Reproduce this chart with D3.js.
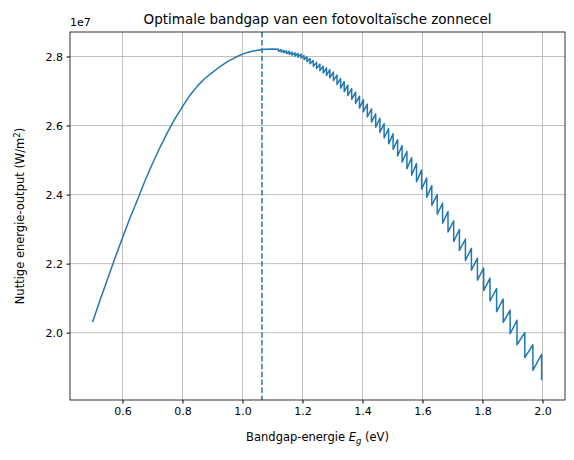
<!DOCTYPE html>
<html>
<head>
<meta charset="utf-8">
<script src="https://cdn.jsdelivr.net/npm/d3@7"></script>
<style>
  body { margin: 0; background: #fff; }
  text { font-family: "DejaVu Sans", sans-serif; fill: #000; }
</style>
</head>
<body>
<svg id="chart" width="574" height="460"></svg>
<script>
// smooth part of the curve (eV, 1e7 W/m^2)
const smoothE = [0.5, 0.525, 0.55, 0.575, 0.6, 0.625, 0.65, 0.675, 0.7, 0.725, 0.75, 0.775,
  0.8, 0.825, 0.85, 0.875, 0.9, 0.925, 0.95, 0.975, 1.0, 1.025, 1.05, 1.075, 1.1];
const smoothP = [2.03, 2.094, 2.155, 2.216, 2.275, 2.332, 2.385, 2.44, 2.49, 2.537, 2.58, 2.62,
  2.655, 2.688, 2.715, 2.737, 2.754, 2.771, 2.785, 2.797, 2.807, 2.814, 2.818, 2.821, 2.822];

// sawtooth part: energy of each drop, value just before and just after the drop
const dropE = [1.120, 1.129, 1.138, 1.147, 1.156, 1.165, 1.175, 1.185, 1.195, 1.205,
  1.215, 1.225, 1.236, 1.247, 1.258, 1.269, 1.280, 1.291, 1.303, 1.315,
  1.327, 1.339, 1.351, 1.364, 1.377, 1.390, 1.403, 1.416, 1.430, 1.444,
  1.458, 1.472, 1.487, 1.502, 1.517, 1.532, 1.548, 1.564, 1.580, 1.597,
  1.614, 1.631, 1.649, 1.667, 1.685, 1.704, 1.723, 1.743, 1.763, 1.783,
  1.804, 1.825, 1.847, 1.869, 1.892, 1.915, 1.941, 1.968, 1.997];
const dropTop = [2.821, 2.820, 2.818, 2.816, 2.815, 2.813, 2.811, 2.809, 2.807, 2.803,
  2.799, 2.794, 2.788, 2.783, 2.778, 2.772, 2.767, 2.762, 2.755, 2.746,
  2.736, 2.727, 2.717, 2.707, 2.697, 2.685, 2.675, 2.662, 2.648, 2.634,
  2.621, 2.606, 2.591, 2.576, 2.559, 2.542, 2.525, 2.507, 2.490, 2.471,
  2.448, 2.426, 2.400, 2.375, 2.351, 2.324, 2.299, 2.271, 2.244, 2.216,
  2.187, 2.158, 2.128, 2.097, 2.065, 2.036, 2.000, 1.965, 1.937];
const dropBottom = [2.815, 2.813, 2.811, 2.808, 2.806, 2.804, 2.801, 2.798, 2.796, 2.791,
  2.785, 2.779, 2.772, 2.765, 2.759, 2.752, 2.745, 2.738, 2.730, 2.719,
  2.708, 2.698, 2.687, 2.676, 2.664, 2.651, 2.640, 2.625, 2.610, 2.595,
  2.580, 2.564, 2.547, 2.531, 2.512, 2.494, 2.475, 2.456, 2.437, 2.416,
  2.392, 2.369, 2.343, 2.317, 2.292, 2.264, 2.238, 2.209, 2.181, 2.152,
  2.122, 2.092, 2.061, 2.030, 1.997, 1.965, 1.928, 1.891, 1.862];

const optimumE = 1.065;
const xTicks = [0.6, 0.8, 1.0, 1.2, 1.4, 1.6, 1.8, 2.0];
const yTicks = [2.0, 2.2, 2.4, 2.6, 2.8];

const margin = { left: 70, right: 9, top: 32, bottom: 60 };
const width = 574, height = 460;
const svg = d3.select("#chart");

const x = d3.scaleLinear().domain([0.425, 2.075]).range([margin.left, width - margin.right]);
const y = d3.scaleLinear().domain([1.805, 2.871]).range([height - margin.bottom, margin.top]);

const points = smoothE.map((e, i) => [e, smoothP[i]]);
dropE.forEach((e, i) => {
  points.push([e, dropTop[i]]);
  points.push([e, dropBottom[i]]);
});

// grid
const g = svg.append("g");
g.selectAll(".gx").data(xTicks).join("line")
  .attr("x1", (d) => x(d)).attr("x2", (d) => x(d))
  .attr("y1", margin.top).attr("y2", height - margin.bottom)
  .attr("stroke", "#b0b0b0").attr("stroke-width", 0.8);
g.selectAll(".gy").data(yTicks).join("line")
  .attr("x1", margin.left).attr("x2", width - margin.right)
  .attr("y1", (d) => y(d)).attr("y2", (d) => y(d))
  .attr("stroke", "#b0b0b0").attr("stroke-width", 0.8);

// curve
svg.append("path")
  .datum(points)
  .attr("fill", "none")
  .attr("stroke", "#1f77b4")
  .attr("stroke-width", 1.5)
  .attr("stroke-linejoin", "round")
  .attr("d", d3.line().x((d) => x(d[0])).y((d) => y(d[1])));

svg.append("line")
  .attr("x1", x(optimumE)).attr("x2", x(optimumE))
  .attr("y1", margin.top).attr("y2", height - margin.bottom)
  .attr("stroke", "#1f77b4").attr("stroke-width", 1.5)
  .attr("stroke-dasharray", "5.5,2.4");

// axes
const xAxis = svg.append("g")
  .attr("transform", `translate(0,${height - margin.bottom})`)
  .call(d3.axisBottom(x).tickValues(xTicks).tickFormat(d3.format(".1f")).tickSizeOuter(0).tickSize(3.5).tickPadding(3.5));
const yAxis = svg.append("g")
  .attr("transform", `translate(${margin.left},0)`)
  .call(d3.axisLeft(y).tickValues(yTicks).tickFormat(d3.format(".1f")).tickSizeOuter(0).tickSize(3.5).tickPadding(3.5));
[xAxis, yAxis].forEach((a) => {
  a.selectAll("text").attr("font-size", 11).attr("font-family", "DejaVu Sans");
  a.select(".domain").remove();
});

svg.append("rect")
  .attr("x", margin.left).attr("y", margin.top)
  .attr("width", width - margin.left - margin.right)
  .attr("height", height - margin.top - margin.bottom)
  .attr("fill", "none").attr("stroke", "#000").attr("stroke-width", 0.8);

svg.append("text").attr("x", margin.left).attr("y", 26)
  .attr("font-size", 11).text("1e7");

svg.append("text").attr("x", (margin.left + width - margin.right) / 2).attr("y", 24)
  .attr("text-anchor", "middle").attr("font-size", 13.5)
  .text("Optimale bandgap van een fotovoltaïsche zonnecel");

const xl = svg.append("text").attr("x", (margin.left + width - margin.right) / 2).attr("y", 441)
  .attr("text-anchor", "middle").attr("font-size", 11.5);
xl.append("tspan").text("Bandgap-energie ");
xl.append("tspan").attr("font-style", "italic").text("E");
xl.append("tspan").attr("font-size", 8.5).attr("dy", 3).attr("font-style", "italic").text("g");
xl.append("tspan").attr("dy", -3).text(" (eV)");

const yl = svg.append("text")
  .attr("transform", `translate(24,${(margin.top + height - margin.bottom) / 2}) rotate(-90)`)
  .attr("text-anchor", "middle").attr("font-size", 11.5);
yl.append("tspan").text("Nuttige energie-output (W/m");
yl.append("tspan").attr("font-size", 8.5).attr("dy", -4).text("2");
yl.append("tspan").attr("dy", 4).text(")");
</script>
</body>
</html>
